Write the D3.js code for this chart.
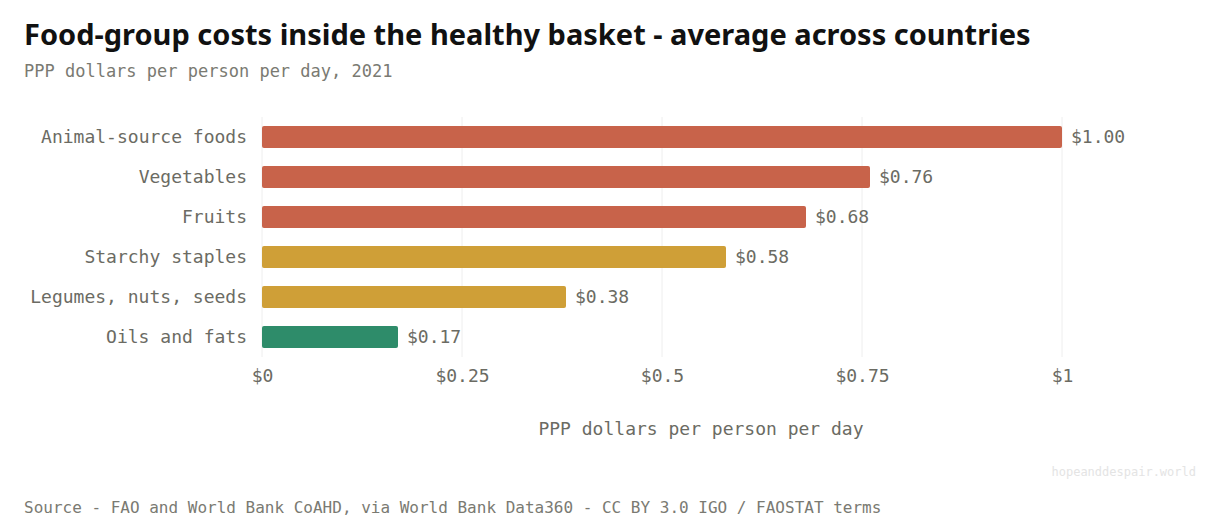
<!DOCTYPE html>
<html><head><meta charset="utf-8">
<script src="https://cdn.jsdelivr.net/npm/d3@7"></script>
<style>body{margin:0;background:#fff}</style></head>
<body><svg id="c" width="1227" height="531"></svg>
<script>
const categories=["Animal-source foods","Vegetables","Fruits","Starchy staples","Legumes, nuts, seeds","Oils and fats"];
const values=[1.00,0.76,0.68,0.58,0.38,0.17];
const groups=["red","red","red","gold","gold","green"];
const tickValues=[0,0.25,0.5,0.75,1];
const tickLabels=["$0","$0.25","$0.5","$0.75","$1"];
const colors={red:"#c8634a",gold:"#cf9f37",green:"#2e8c6a"};
const mono="'DejaVu Sans Mono', monospace";
const svg=d3.select("#c");
const x=d3.scaleLinear().domain([0,1]).range([262,1062]);
const y=d3.scaleBand().domain(categories).range([117,357]).paddingInner(0.45).paddingOuter(0.225);
svg.append("text").attr("x",24).attr("y",45).attr("font-family","'Noto Sans', sans-serif").attr("font-weight",700).attr("font-size",29).attr("fill","#111").text("Food-group costs inside the healthy basket - average across countries");
svg.append("text").attr("x",24).attr("y",77).attr("font-family",mono).attr("font-size",17).attr("fill","#7a7a72").text("PPP dollars per person per day, 2021");
svg.selectAll(".g").data(tickValues).join("line").attr("x1",d=>x(d)).attr("x2",d=>x(d)).attr("y1",117).attr("y2",357).attr("stroke","#eeeeee");
svg.selectAll(".b").data(values).join("rect").attr("x",x(0)).attr("y",(d,i)=>y(categories[i])).attr("height",y.bandwidth()).attr("width",d=>x(d)-x(0)).attr("rx",2).attr("fill",(d,i)=>colors[groups[i]]);
svg.selectAll(".v").data(values).join("text").attr("x",d=>x(d)+9).attr("y",(d,i)=>y(categories[i])+y.bandwidth()/2).attr("dy","0.35em").attr("font-family",mono).attr("font-size",18).attr("fill","#6b6b63").text(d=>"$"+d.toFixed(2));
svg.selectAll(".c").data(categories).join("text").attr("x",247).attr("y",d=>y(d)+y.bandwidth()/2).attr("dy","0.35em").attr("text-anchor","end").attr("font-family",mono).attr("font-size",18).attr("fill","#6b6b63").text(d=>d);
const ax=svg.append("g").attr("transform","translate(0,364)").call(d3.axisBottom(x).tickValues(tickValues).tickFormat((d,i)=>tickLabels[i]).tickSize(0).tickPadding(5));
ax.select(".domain").remove();
ax.selectAll("text").attr("font-family",mono).attr("font-size",18).attr("fill","#6b6b63");
svg.append("text").attr("x",701).attr("y",435).attr("text-anchor","middle").attr("font-family",mono).attr("font-size",18).attr("fill","#6b6b63").text("PPP dollars per person per day");
svg.append("text").attr("x",1196).attr("y",476).attr("text-anchor","end").attr("font-family",mono).attr("font-size",12).attr("fill","#e4e4e4").text("hopeanddespair.world");
svg.append("text").attr("x",24).attr("y",513).attr("font-family",mono).attr("font-size",16).attr("fill","#7a7a72").text("Source - FAO and World Bank CoAHD, via World Bank Data360 - CC BY 3.0 IGO / FAOSTAT terms");
</script></body></html>
